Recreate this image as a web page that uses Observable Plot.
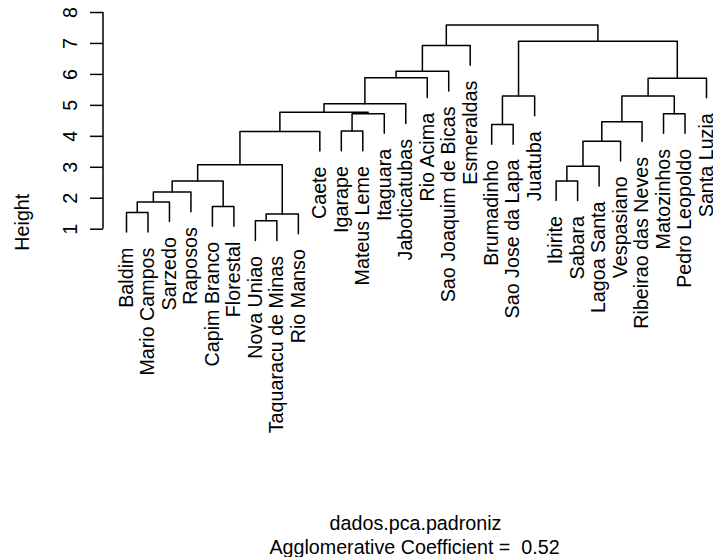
<!DOCTYPE html>
<html><head><meta charset="utf-8">
<script src="https://cdn.jsdelivr.net/npm/d3@7"></script>
<script src="https://cdn.jsdelivr.net/npm/@observablehq/plot@0.6"></script>
<style>
html,body{margin:0;padding:0;background:#fff;}
#chart svg{display:block;}
</style></head><body><div id="chart"></div>
<script>
// Leaves in dendrogram order
const leaves = ["Baldim","Mario Campos","Sarzedo","Raposos","Capim Branco","Florestal","Nova Uniao","Taquaracu de Minas","Rio Manso","Caete","Igarape","Mateus Leme","Itaguara","Jaboticatubas","Rio Acima","Sao Joaquim de Bicas","Esmeraldas","Brumadinho","Sao Jose da Lapa","Juatuba","Ibirite","Sabara","Lagoa Santa","Vespasiano","Ribeirao das Neves","Matozinhos","Pedro Leopoldo","Santa Luzia"];
// Merge table (R style): negative = leaf number (1-based, in order), positive = earlier merge step
const mergeLeft  = [-1, 1, 2, -5, 3, -7, 6, 5, 8, -11, 10, 9, 12, 13, 14, 15, -18, 17, -21, 19, 20, 21, -26, 22, 24, 18, 16];
const mergeRight = [-2, -3, -4, -6, 4, -8, -9, 7, -10, -12, -13, 11, -14, -15, -16, -17, -19, -20, -22, -23, -24, -25, -27, 23, -28, 25, 26];
const mergeHeight = [1.54, 1.88, 2.20, 1.73, 2.56, 1.27, 1.49, 3.08, 4.16, 4.17, 4.73, 4.78, 5.05, 5.89, 6.10, 6.93, 4.38, 5.30, 2.56, 3.03, 3.84, 4.47, 4.73, 5.30, 5.88, 7.07, 7.60];
const yTicks = [1, 2, 3, 4, 5, 6, 7, 8];
const yLabel = "Height";
const title = "dados.pca.padroniz";
const caption = "Agglomerative Coefficient =  0.52";

const hang = 0.1 * (d3.max(mergeHeight) - d3.min(mergeHeight));
const nodeX = [], nodeH = [], leafBottom = [];
const segs = [];
mergeLeft.forEach((a, i) => {
  const b = mergeRight[i], h = mergeHeight[i];
  const xa = a < 0 ? -a - 1 : nodeX[a - 1];
  const xb = b < 0 ? -b - 1 : nodeX[b - 1];
  const ha = a < 0 ? h - hang : nodeH[a - 1];
  const hb = b < 0 ? h - hang : nodeH[b - 1];
  if (a < 0) leafBottom[-a - 1] = ha;
  if (b < 0) leafBottom[-b - 1] = hb;
  nodeX[i] = (xa + xb) / 2; nodeH[i] = h;
  segs.push({id: i, x: xa, y: ha}, {id: i, x: xa, y: h}, {id: i, x: xb, y: h}, {id: i, x: xb, y: hb});
});
const labelData = leaves.map((name, i) => ({name, x: i, y: leafBottom[i]}));

const W = 713, H = 557;
const font = "'Liberation Sans', Arial, Helvetica, sans-serif";
const fs = 19.7;

const axisLine = (index, scales, values, dims) => {
  const l = document.createElementNS("http://www.w3.org/2000/svg", "line");
  l.setAttribute("x1", dims.marginLeft); l.setAttribute("x2", dims.marginLeft);
  l.setAttribute("y1", dims.marginTop); l.setAttribute("y2", dims.height - dims.marginBottom);
  l.setAttribute("stroke", "#000"); l.setAttribute("stroke-width", 1.5);
  return l;
};

const chart = Plot.plot({
  width: W, height: H,
  marginLeft: 103, marginTop: 12, marginRight: 7, marginBottom: H - 228.7,
  x: {domain: [0, leaves.length - 1], range: [126, 706], axis: null},
  y: {domain: [1, 8], axis: null, label: null},
  style: {fontFamily: font, fontSize: fs + "px", background: "#fff", color: "#000"},
  marks: [
    Plot.axisY(yTicks, {anchor: "left", tickSize: 13, tickPadding: 14, tickRotate: -90, fontSize: fs, strokeWidth: 1.5, label: null}),
    axisLine,
    Plot.line(segs, {x: "x", y: "y", z: "id", stroke: "#000", strokeWidth: 1.5, strokeLinejoin: "round", strokeLinecap: "round"}),
    Plot.text(labelData, {x: "x", y: "y", text: "name", rotate: -90, textAnchor: "end", lineAnchor: "middle", dy: 15.5, fontSize: fs, fill: "#000"}),
    Plot.text([yLabel], {text: d => d, frameAnchor: "top-left", rotate: -90, textAnchor: "middle", lineAnchor: "bottom", dx: 28.5 - 103, dy: 221.7 - 12, fontSize: fs, fill: "#000"}),
    Plot.text([title], {text: d => d, frameAnchor: "top-left", textAnchor: "middle", lineAnchor: "bottom", dx: 415 - 103, dy: 529 - 12, fontSize: fs, fill: "#000"}),
    Plot.text([caption], {text: d => d, frameAnchor: "top-left", textAnchor: "middle", lineAnchor: "bottom", dx: 414 - 103, dy: 553 - 12, fontSize: fs, fill: "#000"})
  ]
});
document.getElementById("chart").appendChild(chart);
</script>
</body></html>
